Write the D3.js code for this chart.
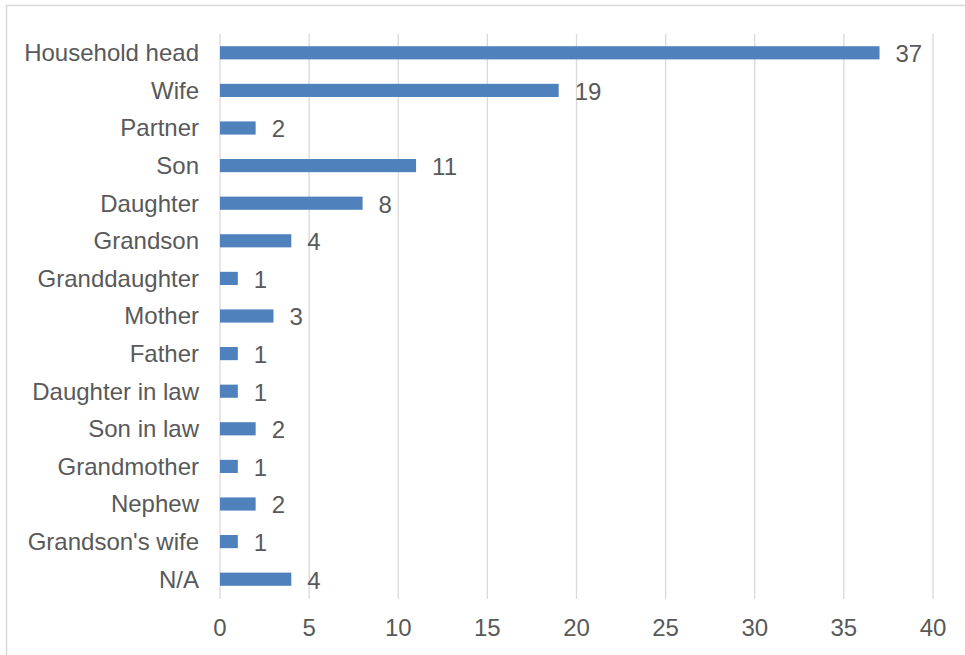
<!DOCTYPE html>
<html>
<head>
<meta charset="utf-8">
<script src="https://cdn.jsdelivr.net/npm/d3@7"></script>
<style>
  html, body { margin: 0; padding: 0; background: #fff; }
  svg { display: block; }
  text { font-family: "Liberation Sans", Arial, sans-serif; fill: #595959; }
</style>
</head>
<body>
<div id="chart"></div>
<script>
// Household relationship counts
const categories = [
  "Household head", "Wife", "Partner", "Son", "Daughter", "Grandson",
  "Granddaughter", "Mother", "Father", "Daughter in law", "Son in law",
  "Grandmother", "Nephew", "Grandson's wife", "N/A"
];
const counts = [37, 19, 2, 11, 8, 4, 1, 3, 1, 1, 2, 1, 2, 1, 4];
const xTicks = [0, 5, 10, 15, 20, 25, 30, 35, 40];

const width = 965, height = 655;
const margin = { top: 34, right: 32, bottom: 57, left: 220 };
const fontSize = 24;

const svg = d3.select("#chart").append("svg")
  .attr("width", width).attr("height", height);

// chart frame
svg.append("rect")
  .attr("x", 6.5).attr("y", 5.5)
  .attr("width", width + 10).attr("height", height + 10)
  .attr("fill", "none").attr("stroke", "#d9d9d9").attr("stroke-width", 1.5);

const x = d3.scaleLinear().domain([0, 40]).range([margin.left, width - margin.right]);
const y = d3.scaleBand().domain(categories)
  .range([margin.top, height - margin.bottom]).paddingInner(0.65).paddingOuter(0.325);

// vertical gridlines
svg.append("g").selectAll("line").data(xTicks).join("line")
  .attr("x1", d => x(d)).attr("x2", d => x(d))
  .attr("y1", margin.top).attr("y2", height - margin.bottom + 1)
  .attr("stroke", "#d9d9d9").attr("stroke-width", 1.3);

// x tick labels
svg.append("g").selectAll("text").data(xTicks).join("text")
  .attr("x", d => x(d)).attr("y", 636)
  .attr("text-anchor", "middle").attr("font-size", fontSize)
  .text(d => d);

// bars
svg.append("g").selectAll("rect").data(categories).join("rect")
  .attr("x", x(0)).attr("y", d => y(d))
  .attr("width", (d, i) => x(counts[i]) - x(0))
  .attr("height", y.bandwidth())
  .attr("fill", "#4f81bd");

// category labels
svg.append("g").selectAll("text").data(categories).join("text")
  .attr("x", 199).attr("y", d => y(d) + y.bandwidth() / 2)
  .attr("dy", "0.35em").attr("text-anchor", "end").attr("font-size", fontSize)
  .text(d => d);

// value labels
svg.append("g").selectAll("text").data(categories).join("text")
  .attr("x", (d, i) => x(counts[i]) + 16).attr("y", d => y(d) + y.bandwidth() / 2 + 1)
  .attr("dy", "0.35em").attr("font-size", fontSize)
  .text((d, i) => counts[i]);
</script>
</body>
</html>
